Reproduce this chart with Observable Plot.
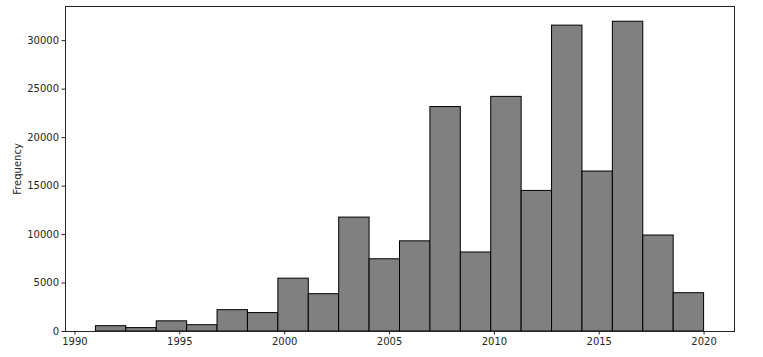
<!DOCTYPE html>
<html>
<head>
<meta charset="utf-8">
<script src="https://cdn.jsdelivr.net/npm/d3@7"></script>
<script src="https://cdn.jsdelivr.net/npm/@observablehq/plot@0.6"></script>
<style>
  html, body { margin: 0; padding: 0; background: #fff; }
  #chart svg { display: block; }
</style>
</head>
<body>
<div id="chart"></div>
<script>
// Bin edges (20 equal bins from 1991 to 2020)
const binStarts = [1991, 1992.45, 1993.9, 1995.35, 1996.8, 1998.25, 1999.7, 2001.15, 2002.6, 2004.05,
                   2005.5, 2006.95, 2008.4, 2009.85, 2011.3, 2012.75, 2014.2, 2015.65, 2017.1, 2018.55];
const binEnds   = [1992.45, 1993.9, 1995.35, 1996.8, 1998.25, 1999.7, 2001.15, 2002.6, 2004.05, 2005.5,
                   2006.95, 2008.4, 2009.85, 2011.3, 2012.75, 2014.2, 2015.65, 2017.1, 2018.55, 2020];
const frequencies = [550, 350, 1050, 650, 2200, 1900, 5450, 3850, 11750, 7450,
                     9300, 23150, 8150, 24200, 14500, 31550, 16500, 31950, 9900, 3950];
const xTicks = [1990, 1995, 2000, 2005, 2010, 2015, 2020];
const yTicks = [0, 5000, 10000, 15000, 20000, 25000, 30000];

const bins = binStarts.map((s, i) => ({x1: s, x2: binEnds[i], y: frequencies[i]}));

const chart = Plot.plot({
  width: 763,
  height: 357,
  marginLeft: 65,
  marginRight: 29,
  marginTop: 6,
  marginBottom: 26,
  style: {fontFamily: "DejaVu Sans", fontSize: "10px", color: "#262626", background: "#fff"},
  x: {domain: [1989.55, 2021.45], ticks: xTicks, tickFormat: "d", label: null},
  y: {domain: [0, 33522], ticks: yTicks, tickFormat: "d", label: "Frequency"},
  marks: [
    Plot.rectY(bins, {x1: "x1", x2: "x2", y: "y", fill: "#808080", stroke: "#000", strokeWidth: 1}),
    Plot.frame({stroke: "#262626", strokeWidth: 1}),
    Plot.axisX({ticks: xTicks, tickFormat: "d", tickSize: 3.5, tickPadding: 3, label: null, fontSize: 10}),
    Plot.axisY({ticks: yTicks, tickFormat: "d", tickSize: 3.5, tickPadding: 3, label: "Frequency",
                labelAnchor: "center", labelArrow: "none", labelOffset: 52, fontSize: 10})
  ]
});
document.getElementById("chart").appendChild(chart);
</script>
</body>
</html>
